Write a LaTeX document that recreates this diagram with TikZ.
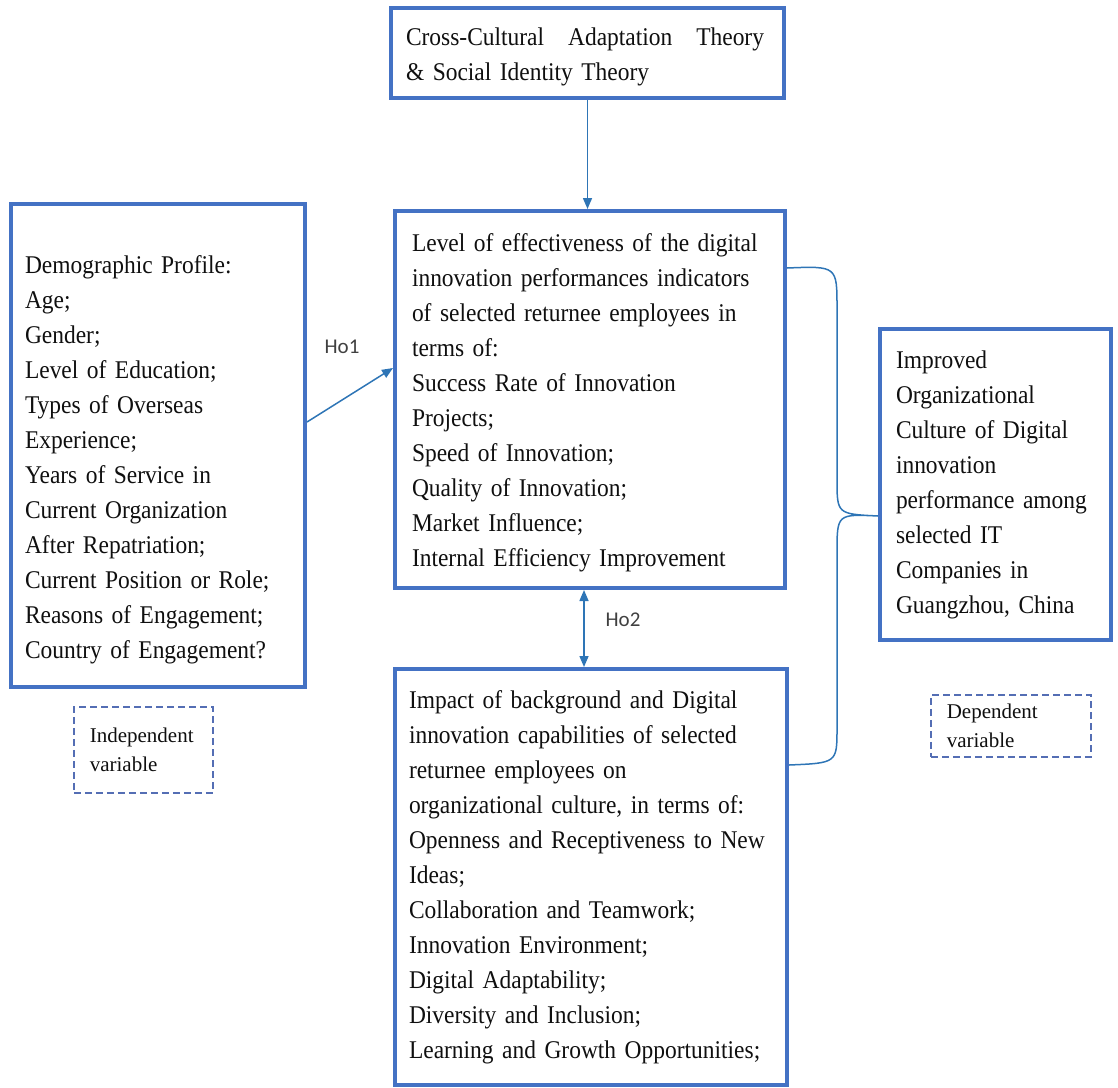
\documentclass[tikz,border=0pt]{standalone}
\usepackage{fontspec}
\setmainfont{Liberation Serif}
\newfontfamily\bodyfont{Liberation Serif}[FakeStretch=0.92]
\newfontfamily\hofont{Carlito}
\usetikzlibrary{arrows.meta}
\definecolor{boxblue}{RGB}{68,114,196}
\definecolor{lineblue}{RGB}{46,117,182}
\definecolor{dashblue}{RGB}{84,110,180}
\definecolor{hogray}{RGB}{64,64,64}
\definecolor{inkblack}{RGB}{15,15,15}
\tikzset{
  box/.style={draw=boxblue, line width=4pt, anchor=north west, inner ysep=0pt, align=left, text=inkblack, font=\bodyfont\fontsize{25.5}{35}\selectfont},
  varbox/.style={draw=dashblue, line width=1.6pt, dash pattern=on 7pt off 4pt, anchor=north west, inner ysep=0pt, inner xsep=16pt, align=left, text=inkblack, font=\fontsize{21}{29}\selectfont},
  link/.style={draw=lineblue, line width=1.5pt},
  holabel/.style={text=hogray, font=\hofont\fontsize{21}{25}\selectfont},
}
\begin{document}
\begin{tikzpicture}[x=1pt,y=-1pt,>={Triangle[length=11pt,width=9pt]}]
\useasboundingbox (0,0) rectangle (1118,1087);

% boxes
\node[box, inner xsep=15pt, text width=363pt, minimum height=90pt] (theory) at (389,6)
  {\rule{0pt}{25pt}\makebox[358pt][l]{Cross-Cultural\hfill Adaptation\hfill Theory}\\ \& Social Identity Theory};
\node[box, inner xsep=17pt, text width=356pt, minimum height=377pt] (effect) at (393,209)
  {\rule{0pt}{24pt}Level of effectiveness of the digital\\ innovation performances indicators\\ of selected returnee employees in\\ terms of:\\ Success Rate of Innovation\\ Projects;\\ Speed of Innovation;\\ Quality of Innovation;\\ Market Influence;\\ Internal Efficiency Improvement};
\node[box, inner xsep=14pt, text width=266pt, minimum height=483pt] (demo) at (9,202)
  {\rule{0pt}{46pt}Demographic Profile:\\ Age;\\ Gender;\\ Level of Education;\\ Types of Overseas\\ Experience;\\ Years of Service in\\ Current Organization\\ After Repatriation;\\ Current Position or Role;\\ Reasons of Engagement;\\ Country of Engagement?};
\node[box, inner xsep=14pt, text width=364pt, minimum height=416pt] (impact) at (393,667)
  {Impact of background and Digital\\ innovation capabilities of selected\\ returnee employees on\\ organizational culture, in terms of:\\ Openness and Receptiveness to New\\ Ideas;\\ Collaboration and Teamwork;\\ Innovation Environment;\\ Digital Adaptability;\\ Diversity and Inclusion;\\ Learning and Growth Opportunities;};
\node[box, inner xsep=16pt, text width=199pt, minimum height=311pt] (culture) at (878,327)
  {Improved\\ Organizational\\ Culture of Digital\\ innovation\\ performance among\\ selected IT\\ Companies in\\ Guangzhou, China};

% variable labels
\node[varbox, text width=107pt, minimum height=86pt] (indep) at (73,706) {Independent\\ variable};
\node[varbox, text width=128pt, minimum height=62pt] (dep) at (930,694) {Dependent\\ variable};

% arrows
\draw[link,->] (theory.south) -- (theory.south |- effect.north);
\draw[link,->] ([yshift=23.5pt]demo.east) -- ([yshift=31.5pt]effect.west);
\draw[link,<->] ([xshift=-6pt]effect.south) -- ([xshift=-6pt]effect.south |- impact.north);
\node[holabel] (ho1) at (342,347) {Ho1};
\node[holabel] (ho2) at (623,620) {Ho2};

% brace to the dependent variable
\coordinate (btop) at ([yshift=131.5pt]effect.east);
\coordinate (btip) at ([yshift=-31.5pt]culture.west);
\coordinate (bbot) at ([yshift=112pt]impact.east);
\draw[link] (btop) .. controls (837,266) .. (837,308) -- (837,479)
  .. controls (837,514) .. (btip) .. controls (837,514) .. (837,553) -- (837,728)
  .. controls (837,763) .. (bbot);

\end{tikzpicture}
\end{document}
